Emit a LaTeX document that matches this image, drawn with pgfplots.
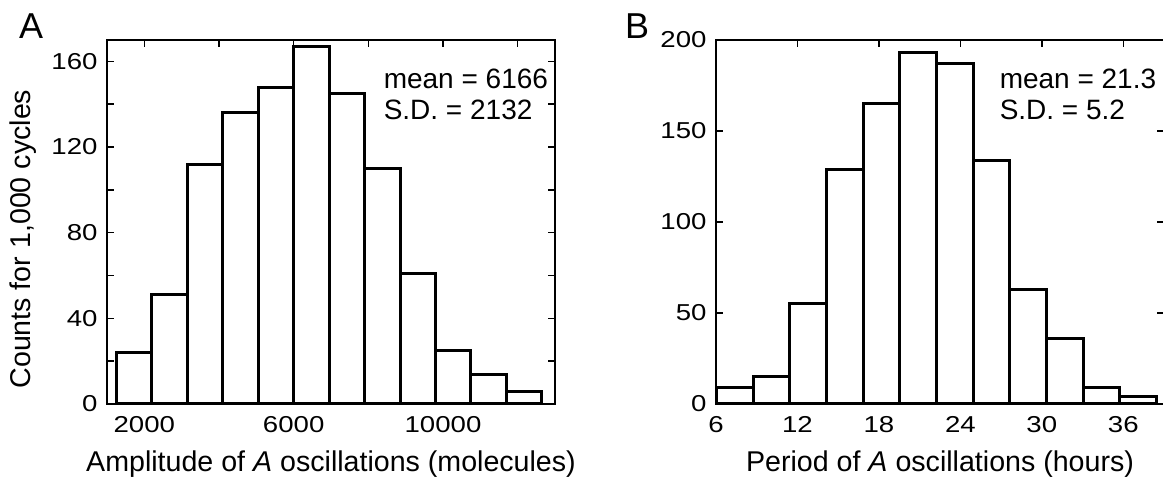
\documentclass[border=0pt]{standalone}
\usepackage{fontspec}
\setmainfont{Liberation Sans}
\newfontfamily\tickfont[FakeStretch=1.2]{Liberation Sans}
\usepackage{pgfplots}
\pgfplotsset{compat=1.18}

% histogram panels share one look
\pgfplotsset{
  histo/.style={
    scale only axis, width=224pt, height=182pt,
    axis line style={line width=0.75pt},
    every tick/.style={line width=0.75pt, black},
    major tick length=3.5pt,
    tick align=inside,
    clip=false,
    ymin=0,
    scaled ticks=false,
    /pgf/number format/assume math mode=true,
    tick label style={font=\tickfont\fontsize{11.5}{13}\selectfont},
    xticklabel style={yshift=-2.5pt},
    yticklabel style={xshift=-1.2pt},
    label style={font=\fontsize{14.3}{16}\selectfont},
    xlabel style={at={(axis description cs:0.5,-0.185)}, anchor=base},
  },
  bars/.style={ybar interval, draw=black, fill=white, line width=1.5pt},
}
\tikzset{note/.style={anchor=base west, font=\fontsize{14}{16}\selectfont}}

\begin{document}
\begin{tikzpicture}
\useasboundingbox (0,0) rectangle (581.5pt,240.5pt);

% panel A: amplitude
\begin{axis}[histo,
  at={(53.5pt,38.5pt)}, anchor=south west,
  xmin=1000, xmax=13000, ymax=170,
  xtick={2000,4000,...,12000}, xticklabels={2000,,6000,,10000,},
  ytick={0,20,...,160}, yticklabels={0,,40,,80,,120,,160},
  xlabel={Amplitude of \textit{A} oscillations (molecules)},
  ylabel={Counts for 1,000 cycles},
  ylabel style={at={(axis description cs:-0.1875,0.453)}, anchor=center},
]
\addplot[bars] coordinates {
  (1250,24) (2200,51) (3150,112) (4100,136) (5050,148) (6000,167)
  (6950,145) (7900,110) (8850,61) (9800,25) (10750,14) (11700,6) (12650,0)};
\node[note] at (rel axis cs:0.602,0.867) {mean = 6166};
\node[note] at (rel axis cs:0.602,0.782) {S.D. = 2132};
\end{axis}

% panel B: period
\begin{axis}[histo,
  at={(358pt,38.5pt)}, anchor=south west,
  xmin=6, xmax=39, ymax=200,
  xtick={6,12,...,36}, ytick={0,50,...,200},
  xlabel={Period of \textit{A} oscillations (hours)},
]
\addplot[bars] coordinates {
  (6.05,9) (8.75,15) (11.45,55) (14.15,129) (16.85,165) (19.55,193)
  (22.25,187) (24.95,134) (27.65,63) (30.35,36) (33.05,9) (35.75,4) (38.45,0)};
\node[note] at (rel axis cs:0.6176,0.867) {mean = 21.3};
\node[note] at (rel axis cs:0.6176,0.782) {S.D. = 5.2};
\end{axis}

\node[anchor=base west, font=\fontsize{18}{20}\selectfont] at (6pt,221pt) {A};
\node[anchor=base west, font=\fontsize{18}{20}\selectfont] at (309pt,221pt) {B};
\end{tikzpicture}
\end{document}
